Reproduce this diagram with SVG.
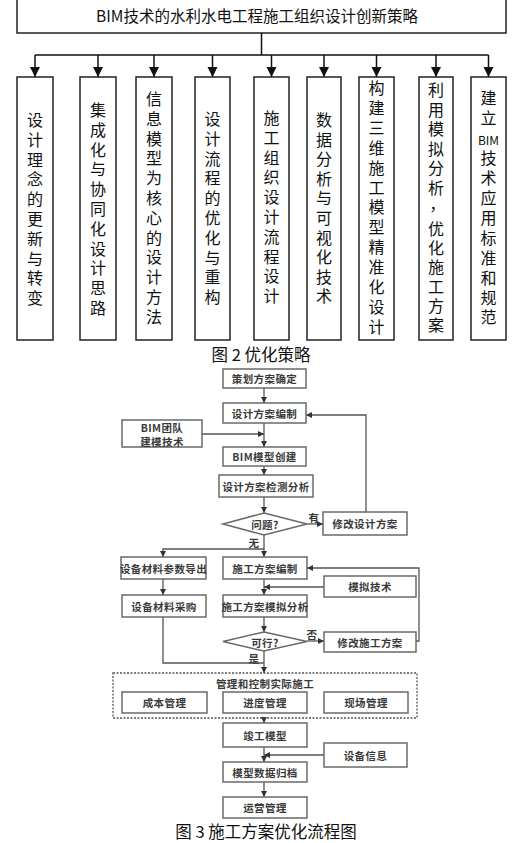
<svg xmlns="http://www.w3.org/2000/svg" width="532" height="843" viewBox="0 0 532 843">
<style>
.bg{fill:#fff}
.tb{fill:#fff;stroke:#222;stroke-width:1.5}
.tt{font-family:"Noto Sans CJK SC","Noto Sans",sans-serif;font-size:16px;fill:#111;text-anchor:middle;dominant-baseline:central}
.vt{font-family:"Noto Sans CJK SC","Noto Sans",sans-serif;font-size:16px;fill:#111;text-anchor:middle;dominant-baseline:central;writing-mode:vertical-rl}
.tl{stroke:#111;stroke-width:1.5;fill:none}
.fb{fill:#fff;stroke:#6a6a6a;stroke-width:1.5}
.ft{font-family:"Noto Sans CJK SC","Noto Sans",sans-serif;font-size:10.5px;font-weight:bold;fill:#3a3a3a;text-anchor:middle;dominant-baseline:central;letter-spacing:0.4px}
.fl{stroke:#555;stroke-width:1.3;fill:none}
.cap{font-family:"Noto Sans CJK SC","Noto Sans",sans-serif;font-size:16.5px;fill:#111;text-anchor:middle;dominant-baseline:central}
</style>
<defs>
<marker id="ab" viewBox="0 0 10 10" refX="10" refY="5" markerWidth="10" markerHeight="11" markerUnits="userSpaceOnUse" orient="auto"><path d="M0,0 L10,5 L0,10 z" fill="#111"/></marker>
<marker id="as" viewBox="0 0 10 10" refX="10" refY="5" markerWidth="7" markerHeight="6" markerUnits="userSpaceOnUse" orient="auto"><path d="M0,0 L10,5 L0,10 z" fill="#333"/></marker>
</defs>
<rect class="bg" x="0" y="0" width="532" height="843"/>

<!-- Figure 2 -->
<g id="root"><rect class="tb" x="17" y="-2" width="489" height="35"/><text class="tt" x="257" y="15" style="font-size:15.5px">BIM技术的水利水电工程施工组织设计创新策略</text></g>
<g id="connectors-fig2">
<path class="tl" d="M261.5,33 V55 M35,55 H488.5"/>
<path class="tl" marker-end="url(#ab)" d="M35,55 V77"/>
<path class="tl" marker-end="url(#ab)" d="M98,55 V77"/>
<path class="tl" marker-end="url(#ab)" d="M154,55 V77"/>
<path class="tl" marker-end="url(#ab)" d="M212.5,55 V77"/>
<path class="tl" marker-end="url(#ab)" d="M271.5,55 V77"/>
<path class="tl" marker-end="url(#ab)" d="M324,55 V77"/>
<path class="tl" marker-end="url(#ab)" d="M376.5,55 V77"/>
<path class="tl" marker-end="url(#ab)" d="M436,55 V77"/>
<path class="tl" marker-end="url(#ab)" d="M488.5,55 V77"/>
</g>
<g id="s1"><rect class="tb" x="17" y="77" width="36" height="263"/><text class="vt"><tspan x="35" y="120">设</tspan><tspan x="35" y="139.8">计</tspan><tspan x="35" y="159.6">理</tspan><tspan x="35" y="179.4">念</tspan><tspan x="35" y="199.2">的</tspan><tspan x="35" y="219">更</tspan><tspan x="35" y="238.8">新</tspan><tspan x="35" y="258.6">与</tspan><tspan x="35" y="278.4">转</tspan><tspan x="35" y="298.2">变</tspan></text></g>
<g id="s2"><rect class="tb" x="80" y="77" width="36" height="263"/><text class="vt"><tspan x="98" y="110">集</tspan><tspan x="98" y="129.8">成</tspan><tspan x="98" y="149.6">化</tspan><tspan x="98" y="169.4">与</tspan><tspan x="98" y="189.2">协</tspan><tspan x="98" y="209">同</tspan><tspan x="98" y="228.8">化</tspan><tspan x="98" y="248.6">设</tspan><tspan x="98" y="268.4">计</tspan><tspan x="98" y="288.2">思</tspan><tspan x="98" y="308">路</tspan></text></g>
<g id="s3"><rect class="tb" x="136" y="77" width="36" height="263"/><text class="vt"><tspan x="154" y="99">信</tspan><tspan x="154" y="118.8">息</tspan><tspan x="154" y="138.6">模</tspan><tspan x="154" y="158.4">型</tspan><tspan x="154" y="178.2">为</tspan><tspan x="154" y="198">核</tspan><tspan x="154" y="217.8">心</tspan><tspan x="154" y="237.6">的</tspan><tspan x="154" y="257.4">设</tspan><tspan x="154" y="277.2">计</tspan><tspan x="154" y="297">方</tspan><tspan x="154" y="316.8">法</tspan></text></g>
<g id="s4"><rect class="tb" x="195" y="77" width="35" height="263"/><text class="vt"><tspan x="212.5" y="119">设</tspan><tspan x="212.5" y="138.8">计</tspan><tspan x="212.5" y="158.6">流</tspan><tspan x="212.5" y="178.4">程</tspan><tspan x="212.5" y="198.2">的</tspan><tspan x="212.5" y="218">优</tspan><tspan x="212.5" y="237.8">化</tspan><tspan x="212.5" y="257.6">与</tspan><tspan x="212.5" y="277.4">重</tspan><tspan x="212.5" y="297.2">构</tspan></text></g>
<g id="s5"><rect class="tb" x="254" y="77" width="35" height="263"/><text class="vt"><tspan x="271.5" y="118">施</tspan><tspan x="271.5" y="137.8">工</tspan><tspan x="271.5" y="157.6">组</tspan><tspan x="271.5" y="177.4">织</tspan><tspan x="271.5" y="197.2">设</tspan><tspan x="271.5" y="217">计</tspan><tspan x="271.5" y="236.8">流</tspan><tspan x="271.5" y="256.6">程</tspan><tspan x="271.5" y="276.4">设</tspan><tspan x="271.5" y="296.2">计</tspan></text></g>
<g id="s6"><rect class="tb" x="307" y="77" width="34" height="263"/><text class="vt"><tspan x="324" y="120">数</tspan><tspan x="324" y="139.6">据</tspan><tspan x="324" y="159.2">分</tspan><tspan x="324" y="178.8">析</tspan><tspan x="324" y="198.4">与</tspan><tspan x="324" y="218">可</tspan><tspan x="324" y="237.6">视</tspan><tspan x="324" y="257.2">化</tspan><tspan x="324" y="276.8">技</tspan><tspan x="324" y="296.4">术</tspan></text></g>
<g id="s7"><rect class="tb" x="359" y="77" width="35" height="263"/><text class="vt"><tspan x="376.5" y="88">构</tspan><tspan x="376.5" y="107.9">建</tspan><tspan x="376.5" y="127.8">三</tspan><tspan x="376.5" y="147.7">维</tspan><tspan x="376.5" y="167.6">施</tspan><tspan x="376.5" y="187.5">工</tspan><tspan x="376.5" y="207.4">模</tspan><tspan x="376.5" y="227.3">型</tspan><tspan x="376.5" y="247.2">精</tspan><tspan x="376.5" y="267.1">准</tspan><tspan x="376.5" y="287">化</tspan><tspan x="376.5" y="306.9">设</tspan><tspan x="376.5" y="326.8">计</tspan></text></g>
<g id="s8"><rect class="tb" x="419" y="77" width="34" height="263"/><text class="vt"><tspan x="436" y="90">利</tspan><tspan x="436" y="109.6">用</tspan><tspan x="436" y="129.2">模</tspan><tspan x="436" y="148.8">拟</tspan><tspan x="436" y="168.4">分</tspan><tspan x="436" y="188">析</tspan><tspan x="429" y="215">，</tspan><tspan x="436" y="229">优</tspan><tspan x="436" y="248.2">化</tspan><tspan x="436" y="267.4">施</tspan><tspan x="436" y="286.6">工</tspan><tspan x="436" y="305.8">方</tspan><tspan x="436" y="325">案</tspan></text></g>
<g id="s9"><rect class="tb" x="471" y="77" width="35" height="263"/><text class="vt"><tspan x="488.5" y="98">建</tspan><tspan x="488.5" y="118">立</tspan></text><text class="tt" x="488.5" y="139" style="font-size:12px">BIM</text><text class="vt"><tspan x="488.5" y="158">技</tspan><tspan x="488.5" y="178">术</tspan><tspan x="488.5" y="198">应</tspan><tspan x="488.5" y="218">用</tspan><tspan x="488.5" y="238">标</tspan><tspan x="488.5" y="258">准</tspan><tspan x="488.5" y="278">和</tspan><tspan x="488.5" y="298">规</tspan><tspan x="488.5" y="317">范</tspan></text></g>
<text class="cap" x="261" y="354">图 2 优化策略</text>

<!-- Figure 3 -->
<g id="connectors-fig3">
<path class="fl" marker-end="url(#as)" d="M264,388 V403"/>
<path class="fl" marker-end="url(#as)" d="M264,423 V447"/>
<path class="fl" marker-end="url(#as)" d="M202,434 H264"/>
<path class="fl" marker-end="url(#as)" d="M264,466 V475"/>
<path class="fl" marker-end="url(#as)" d="M264,497 V513"/>
<path class="fl" marker-end="url(#as)" d="M307,524 H323"/>
<path class="fl" marker-end="url(#as)" d="M366,512 V415 H306"/>
<path class="fl" marker-end="url(#as)" d="M264,535 V557"/>
<path class="fl" marker-end="url(#as)" d="M264,549 H163 V557"/>
<path class="fl" marker-end="url(#as)" d="M163,579 V595"/>
<path class="fl" marker-end="url(#as)" d="M264,579 V595"/>
<path class="fl" marker-end="url(#as)" d="M324,587 H264"/>
<path class="fl" marker-end="url(#as)" d="M264,617 V632"/>
<path class="fl" marker-end="url(#as)" d="M307,641 H324"/>
<path class="fl" marker-end="url(#as)" d="M416,641 H419 V568 H307"/>
<path class="fl" d="M163,617 V663 H264"/>
<path class="fl" marker-end="url(#as)" d="M264,651 V673"/>
<path class="fl" marker-end="url(#as)" d="M264,718 V723"/>
<path class="fl" marker-end="url(#as)" d="M264,747 V762"/>
<path class="fl" marker-end="url(#as)" d="M324,755 H264"/>
<path class="fl" marker-end="url(#as)" d="M264,782 V797"/>
<text class="ft" x="314" y="517">有</text>
<text class="ft" x="254" y="542">无</text>
<text class="ft" x="312" y="634">否</text>
<text class="ft" x="254" y="658">是</text>
</g>
<g id="n1"><rect class="fb" x="223" y="369" width="83" height="19"/><text class="ft" x="264.5" y="378.5">策划方案确定</text></g>
<g id="n2"><rect class="fb" x="223" y="403" width="83" height="20"/><text class="ft" x="264.5" y="413">设计方案编制</text></g>
<g id="n3"><rect class="fb" x="122" y="420" width="80" height="27"/><text class="ft"><tspan x="162" y="427">BIM团队</tspan><tspan x="162" y="440.5">建模技术</tspan></text></g>
<g id="n4"><rect class="fb" x="223" y="447" width="83" height="19"/><text class="ft" x="264.5" y="456.5">BIM模型创建</text></g>
<g id="n5"><rect class="fb" x="219" y="475" width="94" height="22"/><text class="ft" x="266" y="486">设计方案检测分析</text></g>
<g id="n6"><path class="fb" d="M264,513 L307,524 L264,535 L223,524 Z"/><text class="ft" x="265" y="524">问题?</text></g>
<g id="n7"><rect class="fb" x="323" y="512" width="84" height="23"/><text class="ft" x="365" y="523.5">修改设计方案</text></g>
<g id="n8"><rect class="fb" x="121" y="557" width="85" height="22"/><text class="ft" x="163.5" y="568">设备材料参数导出</text></g>
<g id="n9"><rect class="fb" x="223" y="557" width="84" height="22"/><text class="ft" x="265" y="568">施工方案编制</text></g>
<g id="n10"><rect class="fb" x="324" y="576" width="92" height="21"/><text class="ft" x="370" y="586.5">模拟技术</text></g>
<g id="n11"><rect class="fb" x="122" y="595" width="84" height="22"/><text class="ft" x="164" y="606">设备材料采购</text></g>
<g id="n12"><rect class="fb" x="223" y="595" width="84" height="22"/><text class="ft" x="265" y="606">施工方案模拟分析</text></g>
<g id="n13"><path class="fb" d="M264,632 L307,641.5 L264,651 L223,641.5 Z"/><text class="ft" x="265" y="642">可行?</text></g>
<g id="n14"><rect class="fb" x="324" y="632" width="92" height="20"/><text class="ft" x="370" y="642">修改施工方案</text></g>
<g id="n15"><rect x="113" y="673" width="304" height="45" fill="none" stroke="#555" stroke-width="1.3" stroke-dasharray="2,1.5"/><text class="ft" x="265" y="683">管理和控制实际施工</text></g>
<g id="n16"><rect class="fb" x="122" y="692" width="85" height="21"/><text class="ft" x="164.5" y="702.5">成本管理</text></g>
<g id="n17"><rect class="fb" x="223" y="692" width="84" height="21"/><text class="ft" x="265" y="702.5">进度管理</text></g>
<g id="n18"><rect class="fb" x="324" y="692" width="84" height="21"/><text class="ft" x="366" y="702.5">现场管理</text></g>
<g id="n19"><rect class="fb" x="223" y="723" width="84" height="24"/><text class="ft" x="265" y="735">竣工模型</text></g>
<g id="n20"><rect class="fb" x="324" y="743" width="83" height="24"/><text class="ft" x="365.5" y="755">设备信息</text></g>
<g id="n21"><rect class="fb" x="223" y="762" width="84" height="20"/><text class="ft" x="265" y="772">模型数据归档</text></g>
<g id="n22"><rect class="fb" x="223" y="797" width="84" height="21"/><text class="ft" x="265" y="807.5">运营管理</text></g>
<text class="cap" x="266" y="830.5">图 3 施工方案优化流程图</text>
</svg>
